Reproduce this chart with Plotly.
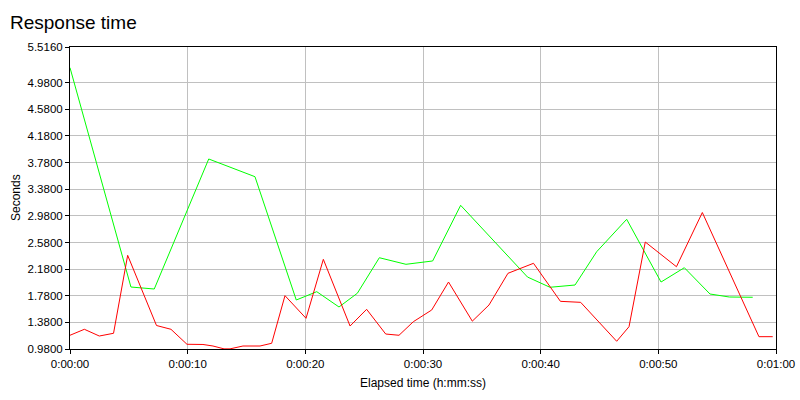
import plotly.graph_objects as go

# Data (elapsed seconds, response seconds)
green_t = [0.0, 5.18, 7.16, 11.79, 15.72, 19.23, 20.97, 22.86, 24.42, 26.29, 28.55, 30.82,
           33.20, 38.88, 40.79, 42.92, 44.76, 47.31, 50.23, 52.21, 54.39, 56.03, 58.02]
green_v = [5.205, 1.911, 1.881, 3.834, 3.568, 1.716, 1.841, 1.611, 1.817, 2.351, 2.252, 2.302,
           3.138, 2.061, 1.907, 1.941, 2.441, 2.928, 1.986, 2.201, 1.806, 1.761, 1.757]

red_t = [0.0, 1.22, 2.49, 3.70, 4.90, 7.35, 8.58, 9.94, 11.30, 12.15, 13.09, 13.60, 14.70,
         16.15, 17.14, 18.27, 20.06, 21.53, 23.80, 25.21, 26.83, 27.96, 29.18, 30.74, 32.17,
         34.19, 35.61, 37.22, 39.39, 41.68, 43.40, 46.46, 47.51, 48.89, 51.54, 53.74, 58.55, 59.72]
red_v = [1.186, 1.276, 1.175, 1.216, 2.387, 1.333, 1.276, 1.051, 1.048, 1.025, 0.982, 0.982, 1.025,
         1.025, 1.066, 1.781, 1.441, 2.327, 1.325, 1.576, 1.205, 1.186, 1.390, 1.566, 1.986,
         1.398, 1.641, 2.117, 2.267, 1.696, 1.681, 1.096, 1.315, 2.587, 2.216, 3.030, 1.165, 1.165]

y_ticks = [0.98, 1.38, 1.78, 2.18, 2.58, 2.98, 3.38, 3.78, 4.18, 4.58, 4.98, 5.516]
y_labels = ["0.9800", "1.3800", "1.7800", "2.1800", "2.5800", "2.9800", "3.3800", "3.7800",
            "4.1800", "4.5800", "4.9800", "5.5160"]
x_ticks = [0, 10, 20, 30, 40, 50, 60]
x_labels = ["0:00:00", "0:00:10", "0:00:20", "0:00:30", "0:00:40", "0:00:50", "0:01:00"]

FONT = "Liberation Sans, Arial, sans-serif"

fig = go.Figure()
fig.add_trace(go.Scatter(x=green_t, y=green_v, mode="lines",
                         line=dict(color="#00ff00", width=1), showlegend=False))
fig.add_trace(go.Scatter(x=red_t, y=red_v, mode="lines",
                         line=dict(color="#ff0000", width=1), showlegend=False))

fig.update_layout(
    template="none",
    width=800, height=400,
    margin=dict(l=70, r=24, t=47, b=51, autoexpand=False),
    paper_bgcolor="white", plot_bgcolor="white",
    font=dict(family=FONT, size=12, color="black"),
    title=dict(text="Response time", x=10/800, xanchor="left", xref="container",
               y=1 - 22/400, yanchor="middle", yref="container",
               font=dict(family=FONT, size=19, color="black")),
    xaxis=dict(range=[0, 60], tickvals=x_ticks, ticktext=x_labels, automargin=False,
               showgrid=True, gridcolor="#c0c0c0", gridwidth=1,
               showline=True, linecolor="black", linewidth=1, mirror=True,
               ticks="outside", ticklen=4, tickcolor="black",
               tickfont=dict(family=FONT, size=11.5), zeroline=False, fixedrange=True),
    yaxis=dict(range=[0.98, 5.516], tickvals=y_ticks, ticktext=y_labels, automargin=False,
               showgrid=True, gridcolor="#c0c0c0", gridwidth=1,
               showline=True, linecolor="black", linewidth=1, mirror=True,
               ticks="outside", ticklen=4, tickcolor="black",
               tickfont=dict(family=FONT, size=11.5), zeroline=False, fixedrange=True),
    annotations=[
        dict(text="Elapsed time (h:mm:ss)", xref="paper", yref="paper",
             x=0.5, y=(349 - 383) / 302, xanchor="center", yanchor="middle",
             showarrow=False, font=dict(family=FONT, size=12)),
        dict(text="Seconds", xref="paper", yref="paper",
             x=(16 - 70) / 706, y=0.5, xanchor="center", yanchor="middle",
             textangle=-90, showarrow=False, font=dict(family=FONT, size=12)),
    ],
)

fig.write_html("out.html", config={"displayModeBar": False},
               post_script="document.body.style.margin='0';document.body.style.overflow='hidden';")
